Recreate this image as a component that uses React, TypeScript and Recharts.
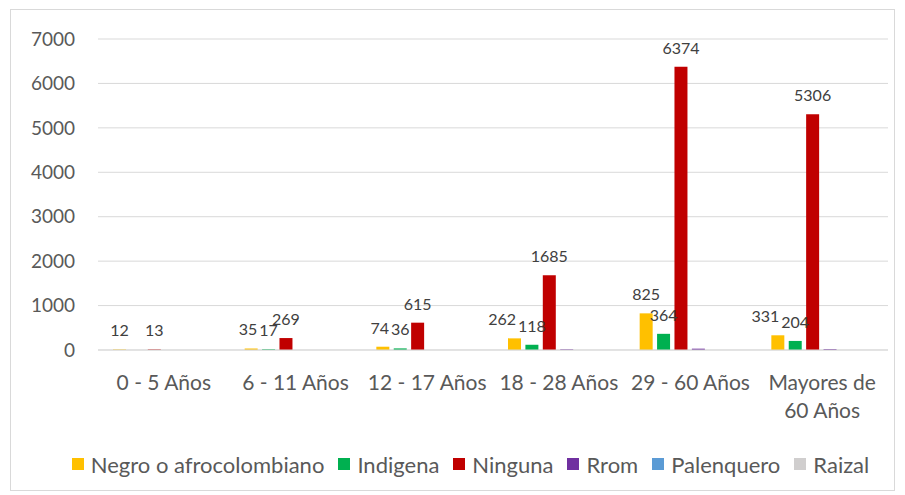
import React from 'react';
import { BarChart, Bar, XAxis, YAxis, CartesianGrid, Legend, LabelList } from 'recharts';

const categories = ['0 - 5 Años', '6 - 11 Años', '12 - 17 Años', '18 - 28 Años', '29 - 60 Años', 'Mayores de 60 Años'];
const negro = [12, 35, 74, 262, 825, 331];
const indigena = [null, 17, 36, 118, 364, 204];
const ninguna = [13, 269, 615, 1685, 6374, 5306];
const rrom = [0, 0, 0, 15, 30, 20];
const palenquero = [0, 0, 0, 0, 0, 0];
const raizal = [0, 0, 0, 0, 0, 0];
const yTicks = [0, 1000, 2000, 3000, 4000, 5000, 6000, 7000];

const seriesNames = ['Negro o afrocolombiano', 'Indigena', 'Ninguna', 'Rrom', 'Palenquero', 'Raizal'];
const seriesKeys = ['negro', 'indigena', 'ninguna', 'rrom', 'palenquero', 'raizal'];
const seriesValues = [negro, indigena, ninguna, rrom, palenquero, raizal];
const colors = ['#FFC000', '#00B050', '#C00000', '#7030A0', '#5B9BD5', '#D0CECE'];
const labelled = [true, true, true, false, false, false];

const data = categories.map((c, i) => {
  const row: Record<string, any> = { name: c };
  seriesKeys.forEach((k, s) => {
    row[k] = seriesValues[s][i];
  });
  return row;
});

const FONT = 'Lato, "Open Sans", sans-serif';
const LABEL_SIZE = 16;
const BAR_GAP = 4.4;
const LABEL_OFFSET = 13;

function splitLabel(s: string): string[] {
  if (s.length <= 14) return [s];
  const mid = s.length / 2;
  let best = -1;
  for (let i = 0; i < s.length; i++) {
    if (s[i] === ' ' && (best < 0 || Math.abs(i - mid) < Math.abs(best - mid))) best = i;
  }
  return best < 0 ? [s] : [s.slice(0, best), s.slice(best + 1)];
}

const CatTick = (props: any) => {
  const { x, y, payload } = props;
  const lines = splitLabel(String(payload.value));
  return (
    <text x={x} y={y} textAnchor="middle" fill="#595959" fontSize={21} fontFamily={FONT}>
      {lines.map((l, i) => (
        <tspan key={i} x={x} dy={i === 0 ? 40 : 28}>
          {l}
        </tspan>
      ))}
    </text>
  );
};

// Label for the first series, nudged left (as Excel does) when it would collide with the next series' label
const NegroLabel = (props: any) => {
  const { x, y, width, height, value, index } = props;
  if (value == null) return null;
  const cx = x + width / 2;
  let shift = 0;
  const next = indigena[index];
  if (next != null && value > 0) {
    const pxPerUnit = Math.abs(height) / value;
    const dy = Math.abs((next - value) * pxPerUnit);
    if (dy < LABEL_SIZE) {
      const halfA = (String(value).length * LABEL_SIZE * 0.58) / 2;
      const halfB = (String(next).length * LABEL_SIZE * 0.58) / 2;
      const step = width + BAR_GAP;
      shift = Math.max(0, halfA + halfB + 2 - step);
    }
  }
  return (
    <text
      x={cx - shift}
      y={y - LABEL_OFFSET}
      textAnchor="middle"
      fill="#404040"
      fontSize={LABEL_SIZE}
      fontFamily={FONT}
    >
      {value}
    </text>
  );
};

const renderLegend = () => (
  <div
    style={{
      display: 'flex',
      justifyContent: 'center',
      alignItems: 'center',
      fontFamily: FONT,
      fontSize: 22,
      color: '#595959',
      height: 26,
      whiteSpace: 'nowrap',
      paddingLeft: 36,
      boxSizing: 'border-box',
    }}
  >
    {seriesNames.map((n, i) => (
      <span key={n} style={{ display: 'flex', alignItems: 'center', marginRight: i < seriesNames.length - 1 ? 14 : 0 }}>
        <span style={{ width: 12, height: 12, background: colors[i], marginRight: 7, display: 'inline-block' }} />
        {n}
      </span>
    ))}
  </div>
);

export default function App() {
  return (
    <div style={{ position: 'absolute', left: 0, top: 0, width: 905, height: 495, background: '#fff' }}>
      <div
        style={{
          position: 'absolute',
          left: 10,
          top: 9,
          width: 885,
          height: 482,
          border: '1px solid #d9d9d9',
          boxSizing: 'border-box',
        }}
      />
      <BarChart
        width={905}
        height={495}
        data={data}
        margin={{ top: 39, right: 17, bottom: 0, left: 0 }}
        barCategoryGap={15}
        barGap={BAR_GAP}
        style={{ position: 'absolute', left: 0, top: 0 }}
      >
        <CartesianGrid horizontal vertical={false} stroke="#d9d9d9" />
        <XAxis
          dataKey="name"
          height={119}
          tickLine={false}
          tickSize={0}
          tickMargin={0}
          axisLine={{ stroke: '#d9d9d9' }}
          tick={<CatTick />}
          interval={0}
        />
        <YAxis
          width={98}
          domain={[0, 7000]}
          ticks={yTicks}
          tickLine={false}
          axisLine={false}
          tickSize={0}
          tickMargin={23}
          tick={{ fill: '#595959', fontSize: 19, fontFamily: FONT }}
          interval={0}
        />
        <Legend
          content={renderLegend}
          verticalAlign="bottom"
          wrapperStyle={{ position: 'absolute', top: 451, left: 0, width: 905, height: 26 }}
        />
        {seriesKeys.map((k, i) => (
          <Bar key={k} dataKey={k} name={seriesNames[i]} fill={colors[i]} isAnimationActive={false}>
            {i === 0 ? (
              <LabelList dataKey={k} content={<NegroLabel />} />
            ) : labelled[i] ? (
              <LabelList
                dataKey={k}
                position="top"
                offset={LABEL_OFFSET}
                fill="#404040"
                fontSize={LABEL_SIZE}
                fontFamily={FONT}
              />
            ) : null}
          </Bar>
        ))}
      </BarChart>
    </div>
  );
}
